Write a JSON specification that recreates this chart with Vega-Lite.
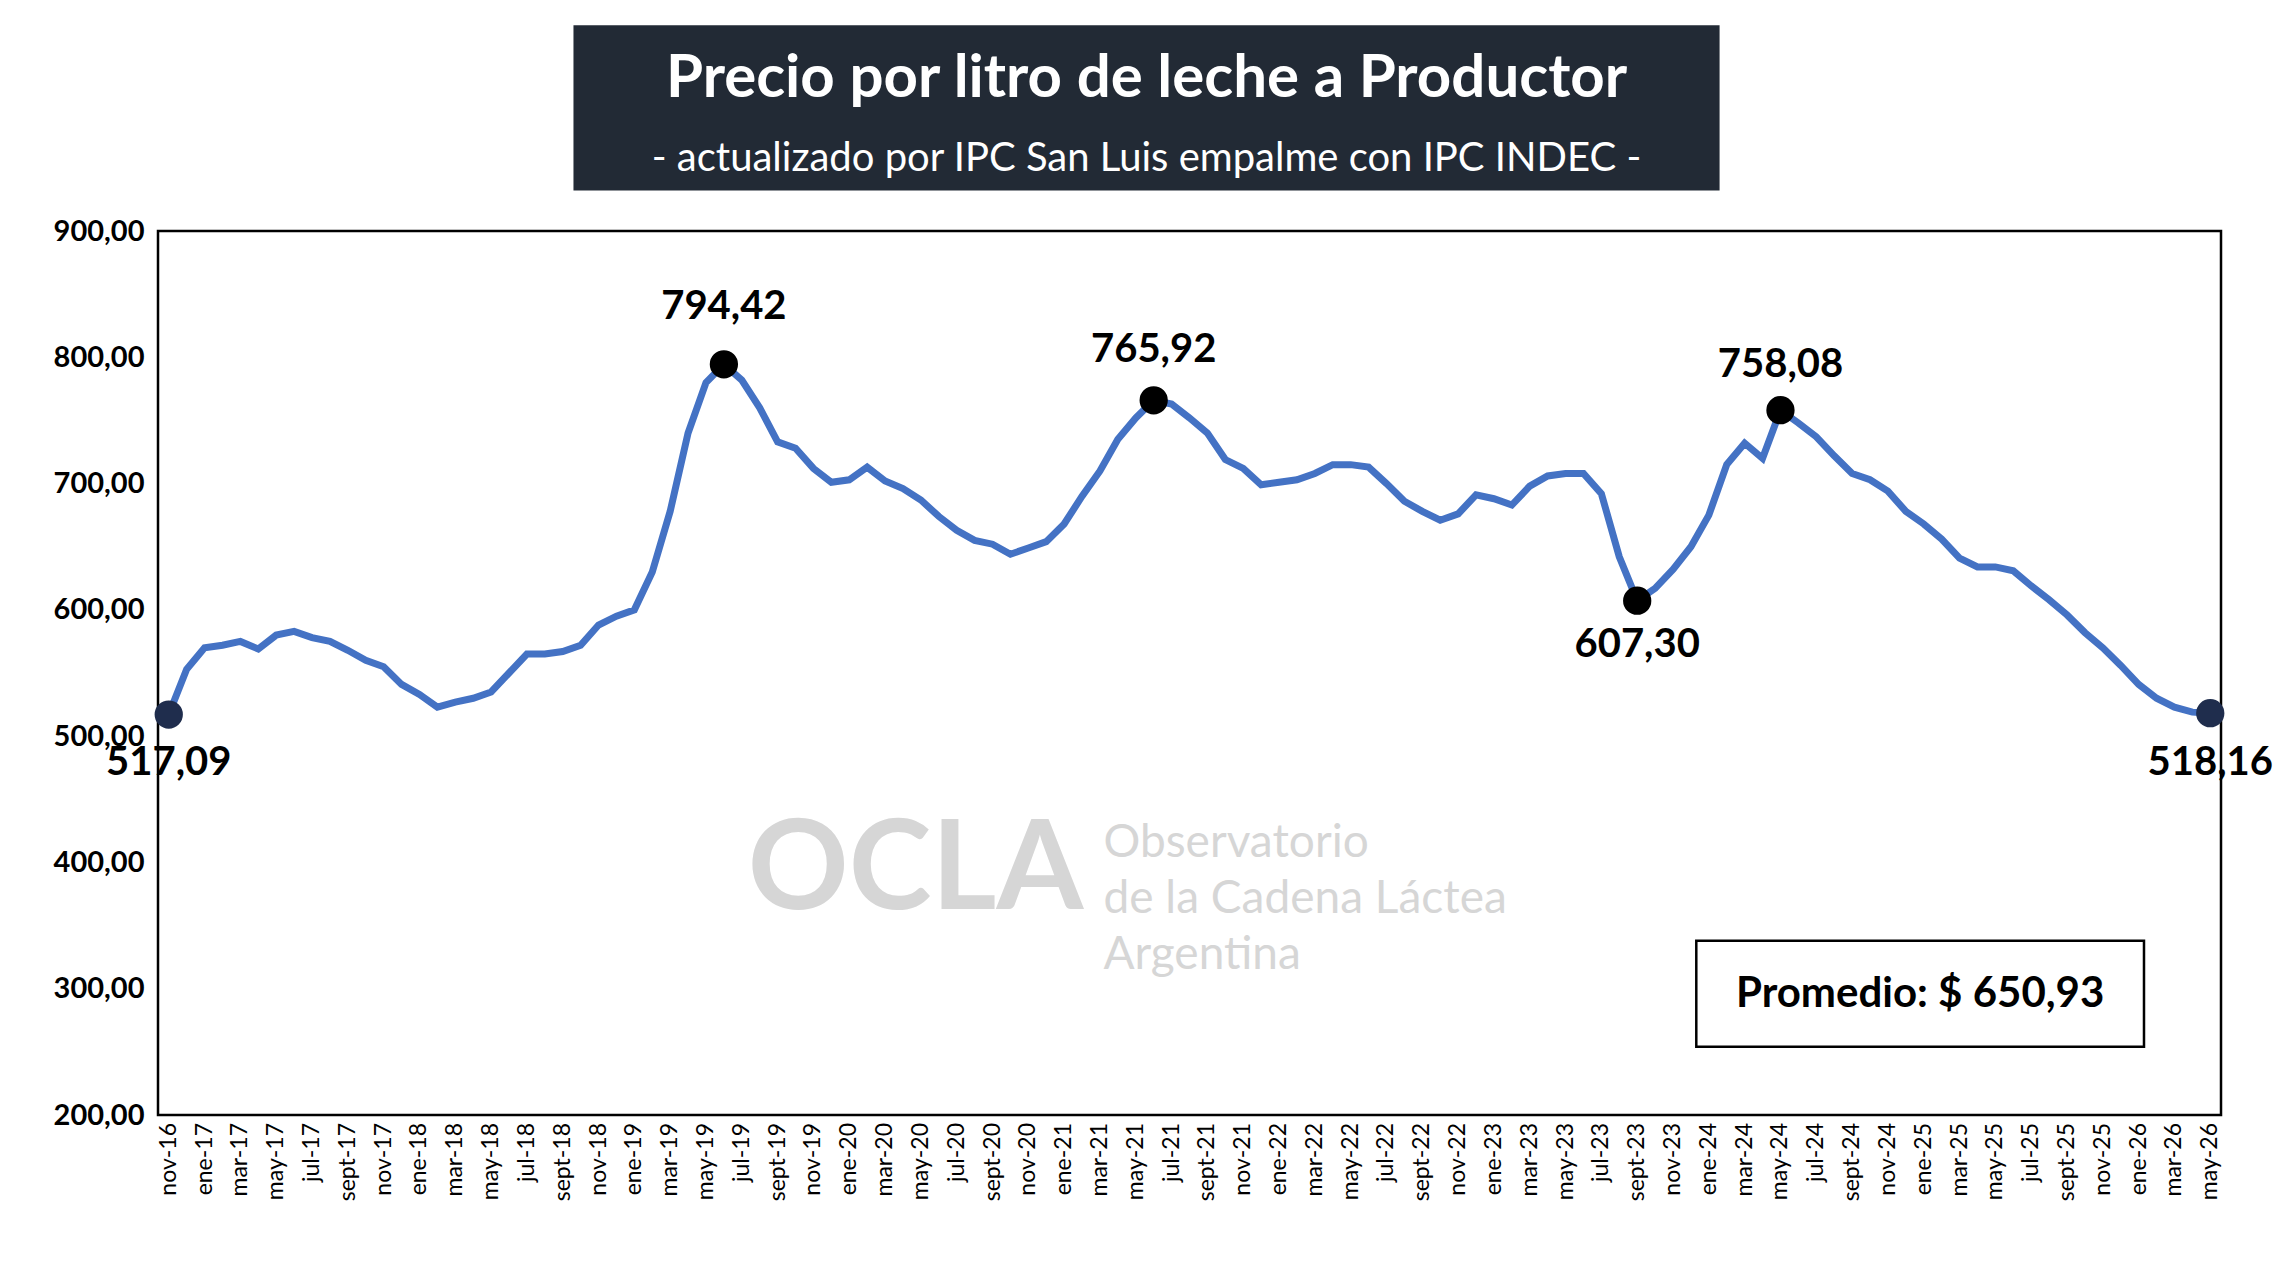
{
"$schema":"https://vega.github.io/schema/vega-lite/v6.json",
"autosize":"none","width":2063,"height":884,
"padding":{"left":158,"top":231,"right":73,"bottom":165},
"background":"white",
"config":{"font":"Lato","view":{"stroke":"black","strokeWidth":2.5}},
"layer":[
{"data":{"values":[{}]},"mark":{"type":"rect","color":"#222a35","clip":false},
 "encoding":{"x":{"datum":22.6,"type":"quantitative"},"x2":{"datum":86.6},"y":{"datum":1063,"type":"quantitative"},"y2":{"datum":932}}},
{"data":{"values":[{}]},"mark":{"type":"text","text":"Precio por litro de leche a Productor","color":"white","fontSize":60,"fontWeight":"bold","baseline":"middle","clip":false},
 "encoding":{"x":{"datum":54.6,"type":"quantitative"},"y":{"datum":1020,"type":"quantitative"}}},
{"data":{"values":[{}]},"mark":{"type":"text","text":"- actualizado por IPC San Luis empalme con IPC INDEC -","color":"white","fontSize":40,"baseline":"middle","clip":false},
 "encoding":{"x":{"datum":54.6,"type":"quantitative"},"y":{"datum":957,"type":"quantitative"}}},
{"data":{"values":[{}]},"mark":{"type":"text","text":"OCLA","color":"#d6d6d6","fontSize":125,"fontWeight":"bold","baseline":"middle","clip":false},
 "encoding":{"x":{"datum":41.7,"type":"quantitative"},"y":{"datum":393,"type":"quantitative"}}},
{"data":{"values":[{"t":"Observatorio","v":415},{"t":"de la Cadena Láctea","v":371},{"t":"Argentina","v":327}]},
 "mark":{"type":"text","color":"#d6d6d6","fontSize":46,"align":"left","baseline":"middle","clip":false},
 "encoding":{"x":{"datum":52.2,"type":"quantitative"},"y":{"field":"v","type":"quantitative"},"text":{"field":"t"}}},
{"data":{"values":[{}]},"mark":{"type":"rect","fill":"white","stroke":"black","strokeWidth":2.5,"clip":false},
 "encoding":{"x":{"datum":85.3,"type":"quantitative"},"x2":{"datum":110.3},"y":{"datum":338,"type":"quantitative"},"y2":{"datum":254}}},
{"data":{"values":[{}]},"mark":{"type":"text","text":"Promedio: $ 650,93","fontWeight":"bold","fontSize":42,"baseline":"middle","color":"black"},
 "encoding":{"x":{"datum":97.8,"type":"quantitative"},"y":{"datum":296,"type":"quantitative"}}},
{"data":{"values":[{"i":0,"l":"nov-16"},{"i":2,"l":"ene-17"},{"i":4,"l":"mar-17"},{"i":6,"l":"may-17"},{"i":8,"l":"jul-17"},{"i":10,"l":"sept-17"},{"i":12,"l":"nov-17"},{"i":14,"l":"ene-18"},{"i":16,"l":"mar-18"},{"i":18,"l":"may-18"},{"i":20,"l":"jul-18"},{"i":22,"l":"sept-18"},{"i":24,"l":"nov-18"},{"i":26,"l":"ene-19"},{"i":28,"l":"mar-19"},{"i":30,"l":"may-19"},{"i":32,"l":"jul-19"},{"i":34,"l":"sept-19"},{"i":36,"l":"nov-19"},{"i":38,"l":"ene-20"},{"i":40,"l":"mar-20"},{"i":42,"l":"may-20"},{"i":44,"l":"jul-20"},{"i":46,"l":"sept-20"},{"i":48,"l":"nov-20"},{"i":50,"l":"ene-21"},{"i":52,"l":"mar-21"},{"i":54,"l":"may-21"},{"i":56,"l":"jul-21"},{"i":58,"l":"sept-21"},{"i":60,"l":"nov-21"},{"i":62,"l":"ene-22"},{"i":64,"l":"mar-22"},{"i":66,"l":"may-22"},{"i":68,"l":"jul-22"},{"i":70,"l":"sept-22"},{"i":72,"l":"nov-22"},{"i":74,"l":"ene-23"},{"i":76,"l":"mar-23"},{"i":78,"l":"may-23"},{"i":80,"l":"jul-23"},{"i":82,"l":"sept-23"},{"i":84,"l":"nov-23"},{"i":86,"l":"ene-24"},{"i":88,"l":"mar-24"},{"i":90,"l":"may-24"},{"i":92,"l":"jul-24"},{"i":94,"l":"sept-24"},{"i":96,"l":"nov-24"},{"i":98,"l":"ene-25"},{"i":100,"l":"mar-25"},{"i":102,"l":"may-25"},{"i":104,"l":"jul-25"},{"i":106,"l":"sept-25"},{"i":108,"l":"nov-25"},{"i":110,"l":"ene-26"},{"i":112,"l":"mar-26"},{"i":114,"l":"may-26"}]},
 "mark":{"type":"text","angle":270,"align":"right","baseline":"middle","fontSize":23,"color":"black","yOffset":8,"clip":false},
 "encoding":{"x":{"field":"i","type":"quantitative"},"y":{"datum":200,"type":"quantitative"},"text":{"field":"l"}}},
{"data":{"name":"serie","values":[
{"i":0,"v":517.09},{"i":1,"v":553},{"i":2,"v":570},{"i":3,"v":572},{"i":4,"v":575},{"i":5,"v":569},{"i":6,"v":580},{"i":7,"v":583},{"i":8,"v":578},{"i":9,"v":575},
{"i":10,"v":568},{"i":11,"v":560},{"i":12,"v":555},{"i":13,"v":541},{"i":14,"v":533},{"i":15,"v":523},{"i":16,"v":527},{"i":17,"v":530},{"i":18,"v":535},{"i":19,"v":550},
{"i":20,"v":565},{"i":21,"v":565},{"i":22,"v":567},{"i":23,"v":572},{"i":24,"v":588},{"i":25,"v":595},{"i":26,"v":600},{"i":27,"v":630},{"i":28,"v":678},{"i":29,"v":740},
{"i":30,"v":780},{"i":31,"v":794.42},{"i":32,"v":782},{"i":33,"v":760},{"i":34,"v":733},{"i":35,"v":728},{"i":36,"v":712},{"i":37,"v":701},{"i":38,"v":703},{"i":39,"v":713},
{"i":40,"v":702},{"i":41,"v":696},{"i":42,"v":687},{"i":43,"v":674},{"i":44,"v":663},{"i":45,"v":655},{"i":46,"v":652},{"i":47,"v":644},{"i":48,"v":649},{"i":49,"v":654},
{"i":50,"v":668},{"i":51,"v":690},{"i":52,"v":710},{"i":53,"v":735},{"i":54,"v":752},{"i":55,"v":765.92},{"i":56,"v":763},{"i":57,"v":752},{"i":58,"v":740},{"i":59,"v":719},
{"i":60,"v":712},{"i":61,"v":699},{"i":62,"v":701},{"i":63,"v":703},{"i":64,"v":708},{"i":65,"v":715},{"i":66,"v":715},{"i":67,"v":713},{"i":68,"v":700},{"i":69,"v":686},
{"i":70,"v":678},{"i":71,"v":671},{"i":72,"v":676},{"i":73,"v":691},{"i":74,"v":688},{"i":75,"v":683},{"i":76,"v":698},{"i":77,"v":706},{"i":78,"v":708},{"i":79,"v":708},
{"i":80,"v":692},{"i":81,"v":642},{"i":82,"v":607.30},{"i":83,"v":617},{"i":84,"v":632},{"i":85,"v":650},{"i":86,"v":675},{"i":87,"v":715},{"i":88,"v":732},{"i":89,"v":720},
{"i":90,"v":758.08},{"i":91,"v":748},{"i":92,"v":737},{"i":93,"v":722},{"i":94,"v":708},{"i":95,"v":703},{"i":96,"v":694},{"i":97,"v":678},{"i":98,"v":668},{"i":99,"v":656},
{"i":100,"v":641},{"i":101,"v":634},{"i":102,"v":634},{"i":103,"v":631},{"i":104,"v":619},{"i":105,"v":608},{"i":106,"v":596},{"i":107,"v":582},{"i":108,"v":570},{"i":109,"v":556},
{"i":110,"v":541},{"i":111,"v":530},{"i":112,"v":523},{"i":113,"v":519},{"i":114,"v":518.16}]},
 "mark":{"type":"line","color":"#4472C4","strokeWidth":7},
 "encoding":{
  "x":{"field":"i","type":"quantitative","scale":{"domain":[-0.6,114.6],"nice":false,"zero":false},
   "axis":{"title":null,"labels":false,"ticks":false,"domain":false,"grid":false}},
  "y":{"field":"v","type":"quantitative","scale":{"domain":[200,900],"nice":false,"zero":false},
   "axis":{"title":null,"values":[200,300,400,500,600,700,800,900],"labelExpr":"replace(format(datum.value,'.2f'),'.',',')","labelFontSize":29,"labelColor":"black","labelFontWeight":"bold","gridColor":"#d9d9d9","gridWidth":2,"domain":false,"ticks":false,"labelPadding":14}}}},
{"data":{"values":[{"i":0,"v":517.09,"c":"e","ly":479,"li":0,"t":"517,09"},{"i":31,"v":794.42,"c":"p","ly":840,"li":31,"t":"794,42"},{"i":55,"v":765.92,"c":"p","ly":806,"li":55,"t":"765,92"},{"i":82,"v":607.30,"c":"p","ly":572,"li":82,"t":"607,30"},{"i":90,"v":758.08,"c":"p","ly":794,"li":90,"t":"758,08"},{"i":114,"v":518.16,"c":"e","ly":479,"li":114,"t":"518,16"}]},
 "layer":[
  {"mark":{"type":"point","filled":true,"size":800,"opacity":1,"clip":false},
   "encoding":{"x":{"field":"i","type":"quantitative"},"y":{"field":"v","type":"quantitative"},
    "color":{"field":"c","type":"nominal","scale":{"domain":["e","p"],"range":["#1f2d4d","#000000"]},"legend":null}}},
  {"mark":{"type":"text","fontSize":40,"fontWeight":"bold","color":"black","baseline":"middle","clip":false},
   "encoding":{"x":{"field":"li","type":"quantitative"},"y":{"field":"ly","type":"quantitative"},"text":{"field":"t"}}}
 ]}
]}
